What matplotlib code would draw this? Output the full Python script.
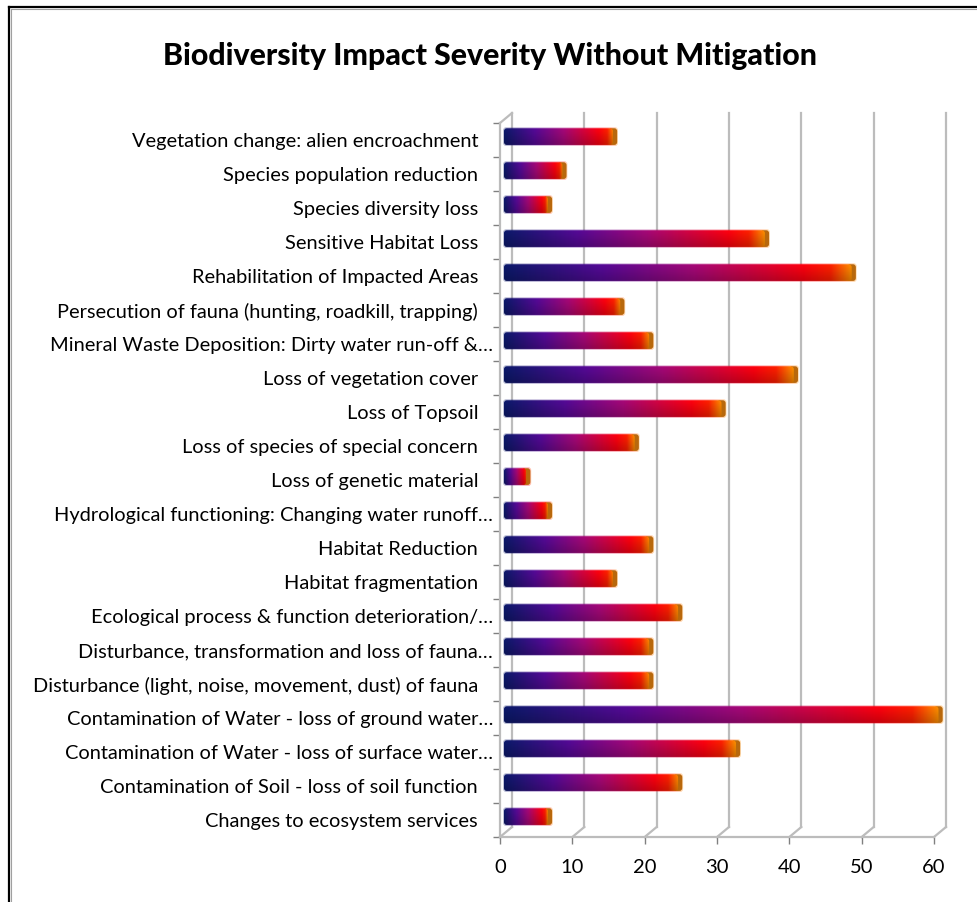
import matplotlib
matplotlib.use("Agg")
import matplotlib.pyplot as plt
import numpy as np
from matplotlib.colors import LinearSegmentedColormap
from matplotlib.lines import Line2D
from matplotlib.patches import FancyBboxPatch
from matplotlib.transforms import Affine2D

categories = [
    "Changes to ecosystem services",
    "Contamination of Soil - loss of soil function",
    "Contamination of Water - loss of surface water\u2026",
    "Contamination of Water - loss of ground water\u2026",
    "Disturbance (light, noise, movement, dust) of fauna",
    "Disturbance, transformation and loss of fauna\u2026",
    "Ecological process & function deterioration/\u2026",
    "Habitat fragmentation",
    "Habitat Reduction",
    "Hydrological functioning: Changing water runoff\u2026",
    "Loss of genetic material",
    "Loss of species of special concern",
    "Loss of Topsoil",
    "Loss of vegetation cover",
    "Mineral Waste Deposition: Dirty water run-off &\u2026",
    "Persecution of fauna (hunting, roadkill, trapping)",
    "Rehabilitation of Impacted Areas",
    "Sensitive Habitat Loss",
    "Species diversity loss",
    "Species population reduction",
    "Vegetation change: alien encroachment",
]
values = [6, 24, 32, 60, 20, 20, 24, 15, 20, 6, 3, 18, 30, 40, 20, 16, 48, 36, 6, 8, 15]
x_ticks = [0, 10, 20, 30, 40, 50, 60]

W, H = 978, 902
plt.rcParams["font.family"] = "Lato"
fig = plt.figure(figsize=(W / 100, H / 100), dpi=100)

# plot box in pixels: x=0 at 500, x=60 at 934, floor at 837, top at 123
# axes run on to 965 so the bar ends are not cut at 60
px = 434 / 60
ax = fig.add_axes([500 / W, 1 - 837 / H, 465 / W, 714 / H])
xmax = 465 / px

# 3d depth of the chart box, in data units
dx = 12 / px
dy = 10 / 34

grid = "#bcbcbc"
for t in x_ticks:
    ax.plot([t, t + dx], [-0.5, -0.5 + dy], color=grid, lw=1.6, clip_on=False, zorder=1)
    ax.plot([t + dx, t + dx], [-0.5 + dy, 20.5 + dy], color=grid, lw=1.6, clip_on=False, zorder=1)
ax.plot([0, dx], [20.5, 20.5 + dy], color=grid, lw=1.6, clip_on=False, zorder=1)

cmap = LinearSegmentedColormap.from_list("bar", [
    (0.0, "#0c1a6c"), (0.28, "#560a98"), (0.55, "#a80878"),
    (0.86, "#ff0010"), (0.94, "#ff2000"), (1.0, "#ff9000"),
])
ramp = np.linspace(0, 1, 256).reshape(1, -1)
shade = np.zeros((32, 1, 4))
shade[:, 0, 3] = np.linspace(0, 0.22, 32)


def round_box(x0, x1, y0, y1, zorder, fc="none", ec="none", lw=0):
    box = FancyBboxPatch((x0, y0), x1 - x0, y1 - y0,
                         boxstyle="round,pad=0,rounding_size=0.4",
                         mutation_aspect=0.22, fc=fc, ec=ec, lw=lw, zorder=zorder)
    ax.add_patch(box)
    return box


left = 0.55
half = 0.245
shift = 0.1
for i, v in enumerate(values):
    end = v + 0.62
    yc = i + shift
    # soft halo round the bar, the reference is a blurred jpeg
    halo = round_box(left - 0.12, end + 0.7, yc - half - 0.03, yc + half + 0.03, 2)
    im = ax.imshow(ramp, cmap=cmap, extent=[left - 0.12, end + 0.7, yc - half - 0.03, yc + half + 0.03],
                   aspect="auto", alpha=0.3, zorder=2)
    im.set_clip_path(halo)
    # end cap of the 3d bar
    round_box(end - 0.6, end + 0.58, yc - half, yc + half, 3, fc="#b8680c")
    box = round_box(left, end, yc - half, yc + half, 4)
    im = ax.imshow(ramp, cmap=cmap, extent=[left, end, yc - half, yc + half],
                   aspect="auto", interpolation="bilinear", zorder=4)
    im.set_clip_path(box)
    im = ax.imshow(shade, extent=[left, end, yc - half, yc + half],
                   aspect="auto", interpolation="bilinear", zorder=5)
    im.set_clip_path(box)
ax.set_xlim(0, xmax)
ax.set_ylim(-0.5, 20.5)

for side in ["top", "right"]:
    ax.spines[side].set_visible(False)
for side in ["left", "bottom"]:
    ax.spines[side].set_color(grid)
    ax.spines[side].set_linewidth(1.6)
ax.spines["bottom"].set_bounds(0, 60)

ax.set_xticks(x_ticks)
ax.set_yticks(np.arange(-0.5, 21, 1), minor=True)
ax.set_yticks(range(len(categories)))
ax.set_yticklabels(categories, fontsize=14.4, color="black")
ax.set_xticklabels(x_ticks, fontsize=14.5, color="black")
ax.tick_params(axis="y", which="major", length=0, pad=5)
ax.tick_params(axis="y", which="minor", length=5, width=1, color="#808080")
ax.tick_params(axis="x", length=5, width=1, color="#808080", pad=11)

# labels that were not shortened end 15 px before the shortened ones
for label in ax.get_yticklabels():
    if not label.get_text().endswith("\u2026"):
        label.set_transform(label.get_transform() + Affine2D().translate(-15, 0))

fig.text(490 / W, 1 - 56 / H, "Biodiversity Impact Severity Without Mitigation",
         fontsize=21.8, fontweight="black", ha="center", va="center")

# chart frame: only top and left fall inside the image
for xs, ys, col, lw in [
    ([9, 9], [7, H], "black", 1.6),
    ([9, W], [7, 7], "black", 1.6),
    ([11, 11], [9, H], "#a0a0a0", 0.8),
    ([11, W], [9, 9], "#a0a0a0", 0.8),
]:
    fig.add_artist(Line2D([x / W for x in xs], [1 - y / H for y in ys], color=col, lw=lw,
                          transform=fig.transFigure))

fig.savefig("out.png", dpi=100)
